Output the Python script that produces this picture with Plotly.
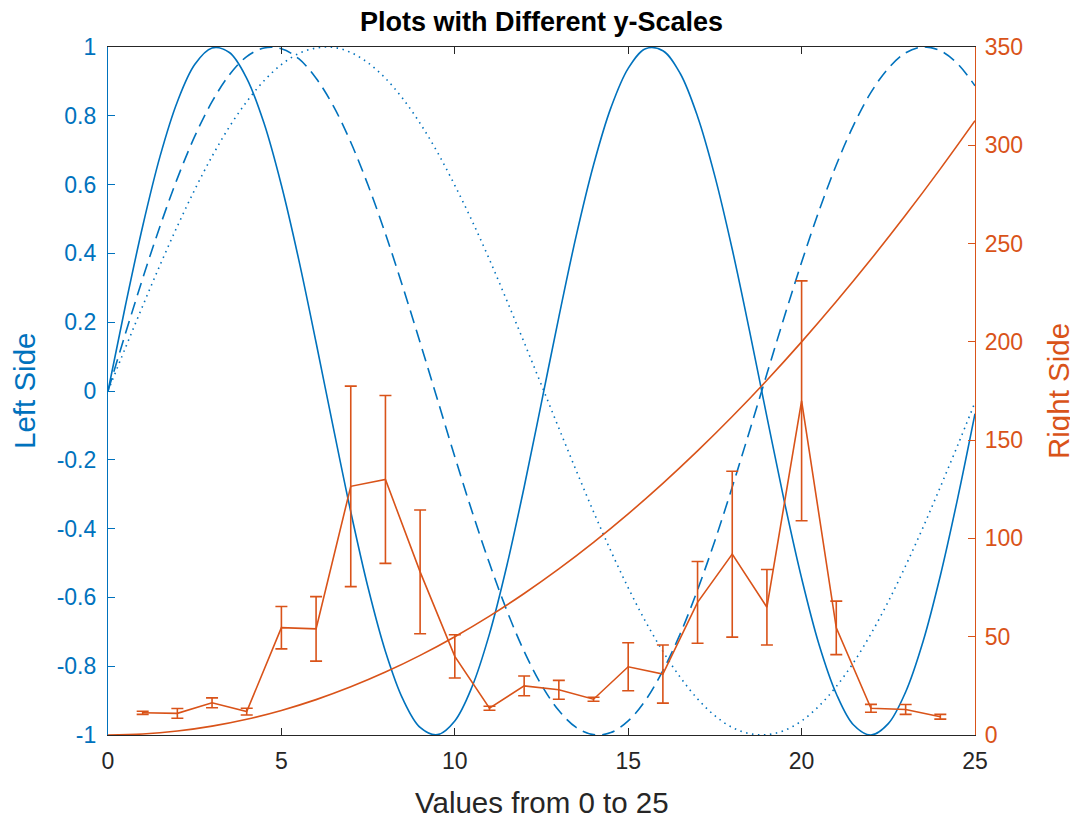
import plotly.graph_objects as go

BLUE = "#0072BD"
ORANGE = "#D95319"
DARK = "#262626"

# x sampling of the left-side curves
x_curve = [i * 0.5 for i in range(51)]

left_solid = [0.000, 0.247, 0.479, 0.682, 0.841, 0.949, 0.997, 0.984, 0.909, 0.778,
              0.598, 0.382, 0.141, -0.108, -0.351, -0.572, -0.757, -0.895, -0.978, -0.999,
              -0.959, -0.859, -0.706, -0.508, -0.279, -0.033, 0.215, 0.451, 0.657, 0.823,
              0.938, 0.995, 0.989, 0.923, 0.798, 0.624, 0.412, 0.174, -0.075, -0.320,
              -0.544, -0.736, -0.880, -0.971, -1.000, -0.967, -0.875, -0.729, -0.537, -0.312,
              -0.066]

left_dashed = [0.000, 0.166, 0.327, 0.479, 0.618, 0.740, 0.841, 0.919, 0.972, 0.997,
               0.995, 0.966, 0.909, 0.828, 0.723, 0.598, 0.457, 0.303, 0.141, -0.025,
               -0.191, -0.351, -0.501, -0.638, -0.757, -0.855, -0.929, -0.978, -0.999, -0.993,
               -0.959, -0.899, -0.813, -0.706, -0.578, -0.435, -0.279, -0.116, 0.050, 0.215,
               0.374, 0.523, 0.657, 0.773, 0.868, 0.938, 0.983, 1.000, 0.989, 0.951,
               0.887]

left_dotted = [0.000, 0.125, 0.247, 0.366, 0.479, 0.585, 0.682, 0.768, 0.841, 0.902,
               0.949, 0.981, 0.997, 0.999, 0.984, 0.954, 0.909, 0.850, 0.778, 0.694,
               0.598, 0.494, 0.382, 0.263, 0.141, 0.017, -0.108, -0.231, -0.351, -0.465,
               -0.572, -0.670, -0.757, -0.832, -0.895, -0.944, -0.978, -0.996, -0.999, -0.987,
               -0.959, -0.916, -0.859, -0.789, -0.706, -0.612, -0.508, -0.397, -0.279, -0.158,
               -0.033]

# right-side smooth curve, sampled at integers
x_right = list(range(26))
right_curve = [0, 0.5, 2, 4.5, 8, 12.5, 18, 24.5, 32, 40.5, 50, 60.5, 72, 84.5, 98,
               112.5, 128, 144.5, 162, 180.5, 200, 220.5, 242, 264.5, 288, 312.5]

# errorbar series
x_err = list(range(1, 25))
err_vals = [11.3, 11.0, 16.4, 11.9, 54.6, 54.0, 126.5, 130.0, 83.0, 40.0,
            13.6, 25.0, 23.0, 18.2, 34.7, 31.0, 67.5, 92.0, 65.0, 170.0,
            54.5, 13.6, 13.0, 9.3]
err_sizes = [0.8, 2.5, 2.5, 1.7, 10.8, 16.4, 51.0, 42.7, 31.5, 11.0,
             1.0, 5.0, 4.8, 1.0, 12.2, 14.8, 20.8, 42.2, 19.2, 61.0,
             13.6, 2.0, 2.5, 1.2]

left_ticks = [-1, -0.8, -0.6, -0.4, -0.2, 0, 0.2, 0.4, 0.6, 0.8, 1]
left_ticktext = ["-1", "-0.8", "-0.6", "-0.4", "-0.2", "0", "0.2", "0.4", "0.6", "0.8", "1"]
right_ticks = [0, 50, 100, 150, 200, 250, 300, 350]
x_ticks = [0, 5, 10, 15, 20, 25]

FAM = "Liberation Sans, Arial, sans-serif"

fig = go.Figure()

fig.add_trace(go.Scatter(x=x_curve, y=left_solid, mode="lines",
                         line=dict(color=BLUE, width=1.6, shape="spline"), yaxis="y"))
fig.add_trace(go.Scatter(x=x_curve, y=left_dashed, mode="lines",
                         line=dict(color=BLUE, width=1.6, shape="spline", dash="13px,7px"), yaxis="y"))
fig.add_trace(go.Scatter(x=x_curve, y=left_dotted, mode="lines",
                         line=dict(color=BLUE, width=1.6, shape="spline", dash="1.5px,4.5px"), yaxis="y"))

fig.add_trace(go.Scatter(x=x_right, y=right_curve, mode="lines",
                         line=dict(color=ORANGE, width=1.6, shape="spline"), yaxis="y2"))
fig.add_trace(go.Scatter(x=x_err, y=err_vals, mode="lines",
                         line=dict(color=ORANGE, width=1.6),
                         error_y=dict(type="data", array=err_sizes, visible=True,
                                      color=ORANGE, thickness=1.6, width=6),
                         yaxis="y2"))

TICK = 23
LAB = 29.5

fig.update_layout(
    width=1070, height=810,
    margin=dict(l=100, r=103, t=39, b=83, autoexpand=False),
    paper_bgcolor="white", plot_bgcolor="white",
    showlegend=False,
    font=dict(family=FAM, size=TICK, color=DARK),
    annotations=[
        dict(text="<b>Plots with Different y-Scales</b>", xref="paper", yref="paper",
             x=0.5, y=1, xanchor="center", yanchor="middle", yshift=25, showarrow=False,
             font=dict(family=FAM, size=27, color="black")),
        dict(text="Values from 0 to 25", xref="paper", yref="paper", x=0.5, y=0,
             xanchor="center", yanchor="middle", yshift=-67, showarrow=False,
             font=dict(family=FAM, size=LAB, color=DARK)),
        dict(text="Left Side", xref="paper", yref="paper", x=0, y=0.5,
             xanchor="center", yanchor="middle", xshift=-84, textangle=-90, showarrow=False,
             font=dict(family=FAM, size=LAB, color=BLUE)),
        dict(text="Right Side", xref="paper", yref="paper", x=1, y=0.5,
             xanchor="center", yanchor="middle", xshift=83, textangle=-90, showarrow=False,
             font=dict(family=FAM, size=LAB, color=ORANGE)),
    ],
    xaxis=dict(range=[0, 25], tickvals=x_ticks, ticks="inside", ticklen=7, tickwidth=1,
               tickcolor=DARK, showline=True, linecolor=DARK, linewidth=1.2, mirror="ticks",
               showgrid=False, zeroline=False, tickfont=dict(family=FAM, size=TICK, color=DARK),
               ticklabelstandoff=5, automargin=False),
    yaxis=dict(range=[-1, 1], tickvals=left_ticks, ticktext=left_ticktext, ticks="inside",
               ticklen=7, tickwidth=1, tickcolor=BLUE, showline=True, linecolor=BLUE,
               linewidth=1.2, showgrid=False, zeroline=False, automargin=False,
               tickfont=dict(family=FAM, size=TICK, color=BLUE), ticklabelstandoff=6),
    yaxis2=dict(range=[0, 350], tickvals=right_ticks, overlaying="y", side="right",
                ticks="inside", ticklen=7, tickwidth=1, tickcolor=ORANGE, showline=True,
                linecolor=ORANGE, linewidth=1.2, showgrid=False, zeroline=False, automargin=False,
                tickfont=dict(family=FAM, size=TICK, color=ORANGE), ticklabelstandoff=4),
)

fig.write_html("out.html")
